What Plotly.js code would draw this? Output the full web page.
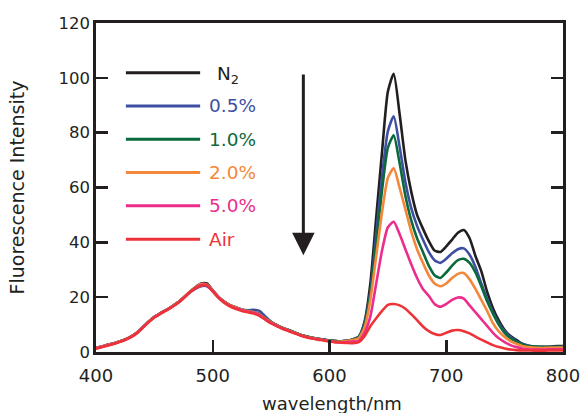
<!DOCTYPE html>
<html>
<head>
<meta charset="utf-8">
<script src="https://cdn.plot.ly/plotly-3.0.1.min.js"></script>
<style>html,body{margin:0;padding:0;background:#fff;}#chart{width:582px;height:413px;}</style>
</head>
<body>
<div id="chart"></div>
<script>
var wavelength = [400,405,410,415,420,425,430,435,440,445,450,455,460,465,470,475,480,485,490,495,
  500,505,510,515,520,525,530,535,540,545,550,555,560,565,570,575,580,585,590,595,
  600,605,610,615,620,625,630,635,640,645,650,655,660,665,670,675,680,685,690,695,
  700,705,710,715,720,725,730,735,740,745,750,755,760,765,770,775,780,785,790,795,800];

var n2 = [1.5,2.0,2.6,3.1,3.8,4.6,5.6,7.0,9.0,11.0,12.8,14.1,15.3,16.6,18.0,19.8,21.8,23.6,25.0,25.0,
  22.5,20.0,18.3,17.0,16.2,15.4,14.9,14.6,13.8,12.3,10.9,9.8,8.8,8.0,7.1,6.3,5.7,5.2,4.8,4.5,
  4.2,4.0,3.9,4.1,4.6,5.5,11,25,49,73,95,101.5,87,70,58.5,50,45,40.5,37,36.5,
  38.5,41,43.5,44.5,41.5,35,29.5,22,16,11.5,8,5.8,4.4,3.0,2.3,2.0,1.9,1.9,2.0,2.2,2.2];

var p05 = [1.5,2.0,2.6,3.1,3.8,4.6,5.6,7.0,9.0,11.0,12.8,14.1,15.3,16.6,18.0,19.8,21.6,23.0,24.0,24.0,
  22.3,20.0,18.3,17.0,16.2,15.5,15.2,15.4,15.0,13.0,11.0,9.6,8.6,7.8,7.0,6.2,5.6,5.2,4.8,4.5,
  4.2,4.0,3.9,4.1,4.6,5.5,10.5,22,43,64,80.5,86,75,62,52.5,46,41,36.5,33.5,32.5,
  34,36,37.5,37.8,35.5,31,25,19.5,14.5,10.5,7.5,5.5,4.0,3.0,2.4,2.0,1.8,1.8,1.8,1.9,1.9];

var p10 = [1.5,2.0,2.6,3.1,3.8,4.6,5.6,7.0,9.0,11.0,12.8,14.1,15.3,16.6,18.0,19.8,21.8,23.3,24.4,24.4,
  22.4,20.0,18.3,17.0,16.2,15.4,14.9,14.6,13.8,12.3,10.9,9.8,8.8,8.0,7.1,6.3,5.7,5.2,4.8,4.5,
  4.2,4.0,3.9,4.1,4.6,5.5,10,21,40,59,74.5,79,69,57,48,41.5,36.5,31.5,28,27,
  29,31.5,33.5,34,32.5,29,24,18.5,14,10,7,5,3.8,2.8,2.2,2.0,1.8,1.8,1.8,1.9,1.9];

var p20 = [1.5,2.0,2.6,3.1,3.8,4.6,5.6,7.0,9.0,11.0,12.8,14.1,15.3,16.6,18.0,19.8,21.8,23.5,24.8,24.6,
  22.4,20.0,18.3,17.0,16.2,15.4,14.9,14.5,13.7,12.2,10.8,9.7,8.7,7.9,7.0,6.2,5.6,5.1,4.7,4.4,
  4.0,3.7,3.8,4.0,4.4,5,9,19,35,51,63.5,67,60,52,44,37.5,32.5,28,25,24,
  25,27,28.5,28.8,26.5,23,19,15,10.5,7.5,5.5,4,3,2.2,1.8,1.6,1.5,1.5,1.6,1.6,1.6];

var p50 = [1.4,1.9,2.5,3.0,3.7,4.5,5.5,6.9,8.9,10.9,12.7,14.0,15.2,16.5,17.9,19.7,21.7,23.3,24.4,24.4,
  22.3,19.9,18.1,16.8,16.0,15.2,14.7,14.3,13.5,12.0,10.6,9.6,8.6,7.8,6.9,6.1,5.5,5.0,4.6,4.3,
  3.9,3.6,3.5,3.6,3.8,4,7,13,25,37,45.5,47.5,43,37.5,32,27,23,20.5,17.5,16.5,
  17.5,19,19.9,19.5,17,14.5,12,9.5,7,5,3.6,2.5,1.8,1.3,1.0,0.9,0.9,0.9,1.0,1.0,1.0];

var air = [1.2,1.7,2.3,2.9,3.6,4.4,5.4,6.8,8.8,10.8,12.6,13.9,15.1,16.4,17.8,19.6,21.6,23.2,24.2,24.2,
  22.0,19.7,17.9,16.6,15.7,15.0,14.5,14.0,13.2,11.8,10.4,9.4,8.4,7.6,6.8,6.0,5.4,4.9,4.5,4.2,
  3.8,3.6,3.4,3.3,3.2,3.6,5.8,9.4,12.3,15,17.2,17.5,17.0,15.8,13.8,11.6,9.3,7.6,6.6,6.2,
  7,7.8,8,7.6,6.8,5.6,4.5,3.5,2.5,1.8,1.3,0.9,0.7,0.6,0.6,0.5,0.5,0.5,0.6,0.6,0.6];

var seriesNames = ['N<sub>2</sub>','0.5%','1.0%','2.0%','5.0%','Air'];
var seriesValues = [n2, p05, p10, p20, p50, air];
var seriesColors = ['#231f20','#3e4fa1','#0b6a3c','#f5873a','#ec2d8c','#ee3338'];
var xTicks = [400,500,600,700,800];
var yTicks = [0,20,40,60,80,100,120];
var xTitle = 'wavelength/nm';
var yTitle = 'Fluorescence Intensity';

var FONT = 'DejaVu Sans, Arial, sans-serif';
var INK = '#231f20';

var traces = seriesValues.map(function(v,i){
  return {x: wavelength, y: v, type:'scatter', mode:'lines', name: seriesNames[i],
    line:{color: seriesColors[i], width:2.6, shape:'spline', smoothing:0.6}, showlegend:false, hoverinfo:'skip'};
});

var shapes = [], annotations = [];
seriesNames.forEach(function(nm,i){
  var yp = 0.849 - i*0.1012;
  shapes.push({type:'line', xref:'paper', yref:'paper', x0:0.064, x1:0.223, y0:yp, y1:yp,
    line:{color:seriesColors[i], width:3}});
  annotations.push({xref:'paper', yref:'paper', x:0.2377, y:yp, xanchor:'left', yanchor:'middle',
    text:nm, showarrow:false, xshift: i===0 ? 8 : 0, yshift: i===0 ? -2 : 0,
    font:{family:FONT, size:18.5, color:seriesColors[i]}});
});
annotations.push({x:577.6, y:35.3, ax:577.6, ay:101.9, xref:'x', yref:'y', axref:'x', ayref:'y',
  text:' ', showarrow:true, arrowhead:2, arrowsize:1.5, arrowwidth:3, arrowcolor:INK, standoff:0,
  font:{size:1}});
// x-axis title placed low near the bottom edge, as in the reference
annotations.push({xref:'paper', yref:'paper', x:0.505, y:0, xanchor:'center', yanchor:'top',
  yshift:-39, text:xTitle, showarrow:false, font:{family:FONT, size:18, color:INK}});

var layout = {
  width:582, height:413,
  margin:{l:96, r:19, t:23, b:61},
  paper_bgcolor:'#fff', plot_bgcolor:'#fff',
  font:{family:FONT, color:INK},
  showlegend:false,
  xaxis:{range:[400,800], tickvals:xTicks, ticks:'inside', ticklen:12, tickwidth:2.5, tickcolor:INK,
    showline:true, linewidth:2.7, linecolor:INK, mirror:true, showgrid:false, zeroline:false,
    ticklabelstandoff:6,
    tickfont:{size:18, family:FONT, color:INK}},
  yaxis:{range:[0,120], tickvals:yTicks, ticks:'inside', ticklen:12, tickwidth:2.5, tickcolor:INK,
    showline:true, linewidth:2.7, linecolor:INK, mirror:'ticks', showgrid:false, zeroline:false,
    tickfont:{size:16.5, family:FONT, color:INK},
    title:{text:yTitle, font:{size:19, family:FONT, color:INK}, standoff:29}},
  shapes:shapes,
  annotations:annotations
};

Plotly.newPlot('chart', traces, layout, {displayModeBar:false, staticPlot:true});
</script>
</body>
</html>
